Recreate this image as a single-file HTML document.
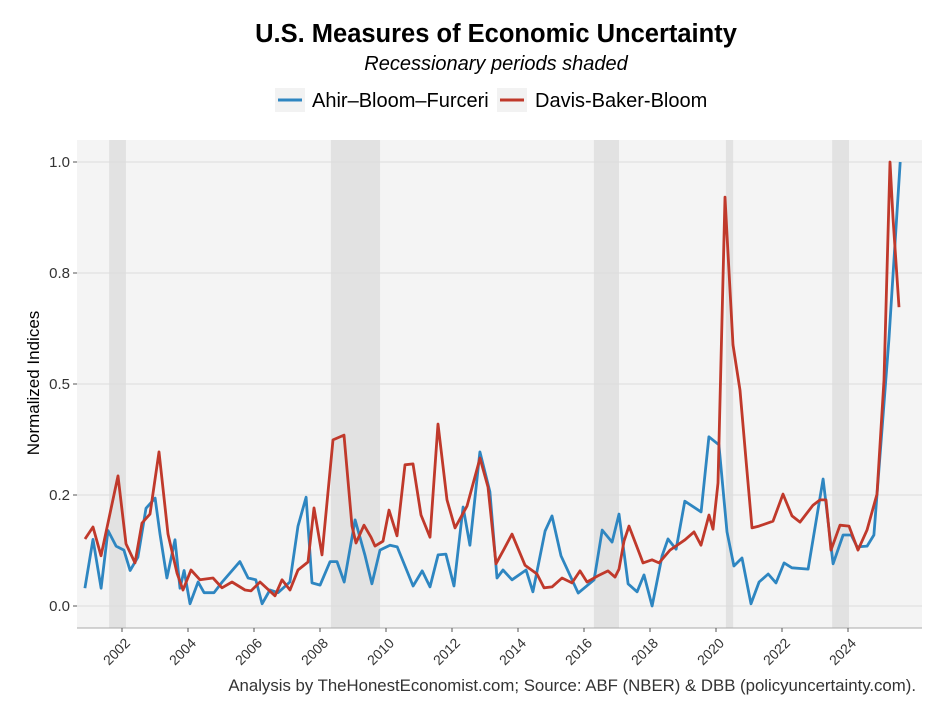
<!DOCTYPE html>
<html><head><meta charset="utf-8"><style>
body{margin:0;background:#fff;font-family:"Liberation Sans",Arial,sans-serif;}
svg text{font-family:"Liberation Sans",Arial,sans-serif;}
</style></head><body>
<svg id="chart" width="946" height="720" xmlns="http://www.w3.org/2000/svg">
<rect width="946" height="720" fill="#fff"/>
<text x="496" y="42" font-size="25.5" font-weight="bold" text-anchor="middle" fill="#000">U.S. Measures of Economic Uncertainty</text>
<text x="496" y="70" font-size="20" font-style="italic" text-anchor="middle" fill="#000">Recessionary periods shaded</text>
<g>
<rect x="275" y="88" width="30" height="24" fill="#f2f2f2"/>
<line x1="278" y1="100" x2="302" y2="100" stroke="#2e86c1" stroke-width="3"/>
<text x="312" y="107" font-size="20" fill="#000">Ahir–Bloom–Furceri</text>
<rect x="497" y="88" width="30" height="24" fill="#f2f2f2"/>
<line x1="500" y1="100" x2="524" y2="100" stroke="#c0392b" stroke-width="3"/>
<text x="535" y="107" font-size="20" fill="#000">Davis-Baker-Bloom</text>
</g>
<rect x="77" y="140" width="845" height="488" fill="#f4f4f4"/>
<g id="bands"></g><g id="grid"></g><g id="axes"></g><g id="lines"></g>
<text transform="translate(39,383) rotate(-90)" font-size="17" text-anchor="middle" fill="#000">Normalized Indices</text>
<text x="916" y="691" font-size="16.8" text-anchor="end" fill="#333">Analysis by TheHonestEconomist.com; Source: ABF (NBER) &amp; DBB (policyuncertainty.com).</text>
</svg>
<script>
const abfYears=[0.875,1.121,1.367,1.575,1.820,2.057,2.246,2.482,2.728,3.002,3.153,3.361,3.607,3.759,3.881,4.061,4.307,4.487,4.789,5.035,5.574,5.820,6.056,6.245,6.482,6.728,7.087,7.333,7.578,7.758,8.004,8.307,8.515,8.732,9.063,9.366,9.573,9.819,10.122,10.340,10.821,11.096,11.332,11.578,11.814,12.060,12.335,12.542,12.845,13.147,13.365,13.544,13.819,14.244,14.452,14.821,15.029,15.303,15.823,16.305,16.551,16.853,17.061,17.335,17.610,17.818,18.063,18.366,18.546,18.792,19.056,19.548,19.785,20.087,20.333,20.541,20.787,21.061,21.307,21.581,21.817,22.063,22.300,22.791,23.245,23.548,23.850,24.096,24.276,24.578,24.786,25.240,25.581];
const abfValues=[0.04,0.15,0.04,0.17,0.135,0.126,0.08,0.11,0.22,0.243,0.162,0.063,0.149,0.04,0.08,0.005,0.054,0.03,0.03,0.054,0.1,0.063,0.059,0.005,0.036,0.03,0.054,0.18,0.245,0.052,0.047,0.1,0.1,0.054,0.194,0.113,0.05,0.126,0.137,0.133,0.045,0.079,0.043,0.115,0.117,0.045,0.223,0.137,0.347,0.257,0.063,0.081,0.059,0.081,0.032,0.169,0.203,0.113,0.029,0.059,0.171,0.144,0.207,0.05,0.032,0.07,0,0.113,0.151,0.128,0.236,0.212,0.381,0.363,0.167,0.09,0.108,0.005,0.054,0.072,0.052,0.097,0.086,0.083,0.286,0.095,0.16,0.16,0.133,0.135,0.16,0.6,1.0];
const dbbYears=[0.879,1.121,1.364,1.879,2.121,2.394,2.606,2.848,3.121,3.394,3.667,3.848,4.091,4.364,4.758,5.030,5.333,5.727,5.909,6.182,6.636,6.848,7.091,7.333,7.636,7.818,8.061,8.394,8.727,8.970,9.091,9.333,9.545,9.667,9.909,10.091,10.333,10.576,10.818,11.061,11.333,11.576,11.848,12.091,12.455,12.848,13.091,13.333,13.576,13.818,14.212,14.576,14.788,15.030,15.333,15.636,15.879,16.091,16.424,16.727,16.939,17.061,17.212,17.364,17.697,17.788,18.061,18.273,18.606,19.061,19.333,19.545,19.788,19.909,20.061,20.273,20.333,20.515,20.727,20.909,21.091,21.303,21.727,22.030,22.303,22.545,22.939,23.152,23.333,23.485,23.758,24.030,24.303,24.576,24.879,25.091,25.273,25.364,25.545];
const dbbValues=[0.151,0.178,0.113,0.293,0.140,0.097,0.187,0.207,0.347,0.162,0.074,0.036,0.081,0.059,0.063,0.041,0.054,0.036,0.034,0.054,0.023,0.059,0.036,0.081,0.099,0.221,0.115,0.374,0.385,0.180,0.142,0.182,0.155,0.135,0.146,0.216,0.158,0.318,0.320,0.205,0.155,0.410,0.239,0.176,0.225,0.333,0.268,0.095,0.128,0.162,0.092,0.072,0.041,0.043,0.063,0.052,0.079,0.054,0.068,0.079,0.065,0.083,0.146,0.180,0.115,0.097,0.104,0.097,0.126,0.149,0.167,0.137,0.205,0.173,0.277,0.921,0.836,0.588,0.486,0.329,0.176,0.180,0.191,0.252,0.203,0.189,0.227,0.239,0.239,0.126,0.182,0.180,0.126,0.171,0.252,0.509,1.0,0.874,0.673];
const recessionStarts=[1.61,8.33,16.30,20.30,23.52];
const recessionEnds=[2.12,9.82,17.06,20.52,24.03];
const yTicks=[0,0.25,0.5,0.75,1.0];
const yTickLabels=["0.0","0.2","0.5","0.8","1.0"];
const xTicks=[2,4,6,8,10,12,14,16,18,20,22,24];
const xTickLabels=["2002","2004","2006","2008","2010","2012","2014","2016","2018","2020","2022","2024"];

const NS="http://www.w3.org/2000/svg";
const X=t=>56+33*t, Y=v=>606-444*v;
const PT=140,PB=628,PL=77,PR=922;
function mk(tag,attrs,parent){const e=document.createElementNS(NS,tag);for(const k in attrs)e.setAttribute(k,attrs[k]);parent.appendChild(e);return e;}
const bands=document.getElementById('bands'),grid=document.getElementById('grid'),axes=document.getElementById('axes'),lines=document.getElementById('lines');
recessionStarts.forEach((s,i)=>{const r=mk('rect',{x:X(s),y:PT,width:X(recessionEnds[i])-X(s),height:PB-PT,fill:'#e2e2e2'},bands);

});
yTicks.forEach((v,i)=>{const g=mk('line',{x1:PL,x2:PR,y1:Y(v),y2:Y(v),stroke:'#dcdcdc','stroke-width':1},grid);


mk('line',{x1:PL-4,x2:PL,y1:Y(v),y2:Y(v),stroke:'#555'},axes);
const t=mk('text',{x:PL-7,y:Y(v)+5,'font-size':15,'text-anchor':'end',fill:'#333'},axes);t.textContent=yTickLabels[i];

});
mk('line',{x1:PL,x2:PR,y1:PB,y2:PB,stroke:'#aaa'},axes);
xTicks.forEach((v,i)=>{const x=X(v);mk('line',{x1:x,x2:x,y1:PB,y2:PB+4,stroke:'#555'},axes);
const t=mk('text',{transform:`translate(${x+9},${PB+16}) rotate(-45)`,'font-size':14,'text-anchor':'end',fill:'#333'},axes);t.textContent=xTickLabels[i];

});
function series(xs,vs,color,name){const d=xs.map((t,i)=>(i?'L':'M')+X(t).toFixed(1)+' '+Y(vs[i]).toFixed(1)).join(' ');
const p=mk('path',{d:d,fill:'none',stroke:color,'stroke-width':2.8,'stroke-linejoin':'round'},lines);

}
series(abfYears,abfValues,'#2e86c1','abf-line');
series(dbbYears,dbbValues,'#c0392b','dbb-line');
</script>
</body></html>
